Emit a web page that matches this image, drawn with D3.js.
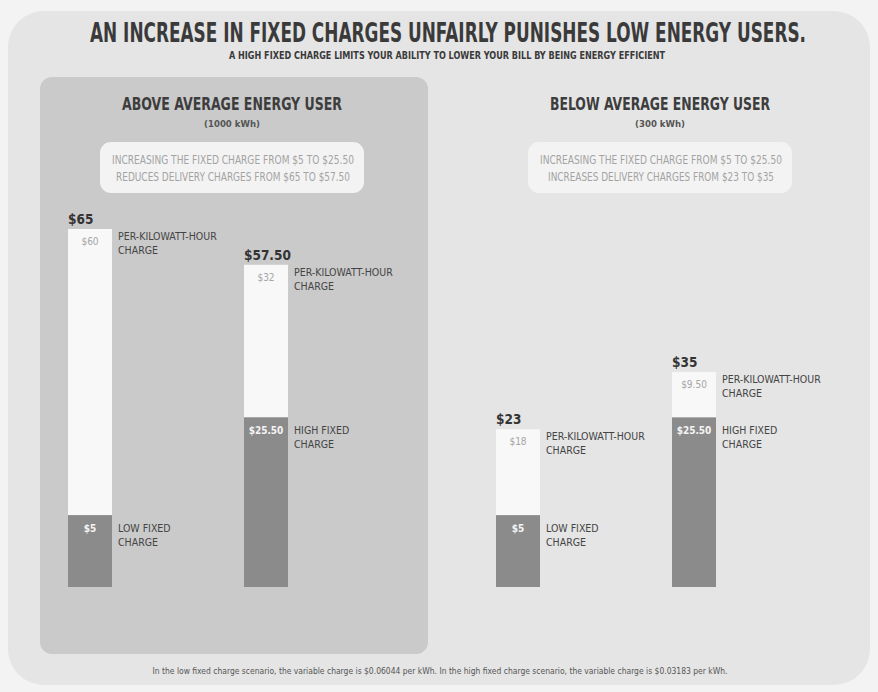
<!DOCTYPE html>
<html>
<head>
<meta charset="utf-8">
<script src="https://cdn.jsdelivr.net/npm/d3@7"></script>
<style>
  html, body { margin: 0; padding: 0; background: #f3f3f3; }
  svg { display: block; }
  text { font-family: "Liberation Sans Narrow", "DejaVu Sans Condensed", "Roboto", sans-serif; }
</style>
</head>
<body>
<div id="chart"></div>
<script>
// chart data
const scenarios = ["ABOVE AVERAGE ENERGY USER", "BELOW AVERAGE ENERGY USER"];
const usage = ["(1000 kWh)", "(300 kWh)"];
const callouts = [
  ["INCREASING THE FIXED CHARGE FROM $5 TO $25.50", "REDUCES DELIVERY CHARGES FROM $65 TO $57.50"],
  ["INCREASING THE FIXED CHARGE FROM $5 TO $25.50", "INCREASES DELIVERY CHARGES FROM $23 TO $35"]
];
const cases = ["low", "high"];
const fixedNames = ["LOW FIXED", "HIGH FIXED"];
const fixedCharge = [[5, 25.5], [5, 25.5]];
const kwhCharge = [[60, 32], [18, 9.5]];
const totalLabels = [["$65", "$57.50"], ["$23", "$35"]];
const fixedLabels = [["$5", "$25.50"], ["$5", "$25.50"]];
const kwhLabels = [["$60", "$32"], ["$18", "$9.50"]];

const width = 878;
const height = 692;
const barWidth = 44;
const baseY = 587;

const svg = d3.select("#chart")
  .append("svg")
  .attr("width", width)
  .attr("height", height);

// card background
svg.append("rect")
  .attr("x", 8).attr("y", 11)
  .attr("width", 862).attr("height", 674)
  .attr("rx", 36)
  .attr("fill", "#e5e5e5");

// darker panel behind the first scenario
svg.append("rect")
  .attr("x", 40).attr("y", 77)
  .attr("width", 388).attr("height", 577)
  .attr("rx", 12)
  .attr("fill", "#cacaca");

// title + subtitle (condensed look: narrow font stretched vertically)
svg.append("text")
  .attr("transform", "translate(448,42) scale(1,1.35)")
  .attr("text-anchor", "middle")
  .attr("font-size", 20).attr("font-weight", "bold")
  .attr("fill", "#3a3a3a")
  .attr("textLength", 716).attr("lengthAdjust", "spacingAndGlyphs")
  .text("AN INCREASE IN FIXED CHARGES UNFAIRLY PUNISHES LOW ENERGY USERS.");

svg.append("text")
  .attr("transform", "translate(447,59) scale(1,1.2)")
  .attr("text-anchor", "middle")
  .attr("font-size", 8.5).attr("font-weight", "bold")
  .attr("fill", "#3a3a3a")
  .attr("textLength", 436).attr("lengthAdjust", "spacingAndGlyphs")
  .text("A HIGH FIXED CHARGE LIMITS YOUR ABILITY TO LOWER YOUR BILL BY BEING ENERGY EFFICIENT");

// scales
const panelX = d3.scalePoint().domain(scenarios).range([0, 428]);
const barX = d3.scalePoint().domain(cases).range([68, 244]);
// the original graphic is not drawn to scale; bars rise from a short stub below zero
const y = d3.scaleLinear().domain([0, 65]).range([539, 229]);

const panels = svg.selectAll("g.panel")
  .data(scenarios)
  .enter()
  .append("g")
  .attr("class", "panel")
  .attr("transform", d => `translate(${panelX(d)},0)`);

// headings
panels.append("text")
  .attr("transform", "translate(232,110) scale(1,1.2)")
  .attr("text-anchor", "middle")
  .attr("font-size", 14.5).attr("font-weight", "bold")
  .attr("fill", "#3d3d3d")
  .attr("textLength", 220).attr("lengthAdjust", "spacingAndGlyphs")
  .text(d => d);

panels.append("text")
  .attr("x", 232).attr("y", 127)
  .attr("text-anchor", "middle")
  .attr("font-size", 9.5).attr("font-weight", "bold")
  .attr("fill", "#555")
  .text((d, i) => usage[i]);

// callout boxes
panels.append("rect")
  .attr("x", 100).attr("y", 142)
  .attr("width", 264).attr("height", 51)
  .attr("rx", 11)
  .attr("fill", "#f3f3f3");

panels.each(function(d, i) {
  const g = d3.select(this);
  callouts[i].forEach((line, j) => {
    g.append("text")
      .attr("transform", `translate(233,${164 + j * 17}) scale(1,1.15)`)
      .attr("text-anchor", "middle")
      .attr("font-size", 10)
      .attr("fill", "#a3a3a3")
      .attr("textLength", j === 0 ? 242 : (i === 0 ? 234 : 226))
      .attr("lengthAdjust", "spacingAndGlyphs")
      .text(line);
  });
});

// bars
panels.each(function(d, i) {
  const g = d3.select(this);
  cases.forEach((c, j) => {
    const fixed = fixedCharge[i][j];
    const total = fixed + kwhCharge[i][j];
    const x0 = barX(c);
    const xr = x0 + barWidth;

    // per-kilowatt-hour segment
    g.append("rect")
      .attr("x", x0).attr("y", y(total))
      .attr("width", barWidth).attr("height", y(fixed) - y(total))
      .attr("fill", "#f8f8f8");

    // fixed segment
    g.append("rect")
      .attr("x", x0).attr("y", y(fixed))
      .attr("width", barWidth).attr("height", baseY - y(fixed))
      .attr("fill", "#8b8b8b");

    // total above bar
    g.append("text")
      .attr("x", x0).attr("y", y(total) - 5)
      .attr("font-size", 13.5).attr("font-weight", "bold")
      .attr("fill", "#333")
      .text(totalLabels[i][j]);

    // values inside segments
    g.append("text")
      .attr("x", x0 + barWidth / 2).attr("y", y(total) + 16)
      .attr("text-anchor", "middle")
      .attr("font-size", 10)
      .attr("fill", "#a5a5a5")
      .text(kwhLabels[i][j]);

    g.append("text")
      .attr("x", x0 + barWidth / 2).attr("y", y(fixed) + 17)
      .attr("text-anchor", "middle")
      .attr("font-size", 10).attr("font-weight", "bold")
      .attr("fill", "#f4f4f4")
      .text(fixedLabels[i][j]);

    // side labels
    const kwhLab = g.append("text")
      .attr("x", xr + 6).attr("y", y(total) + 11)
      .attr("font-size", 10.5)
      .attr("fill", "#444");
    kwhLab.append("tspan").attr("x", xr + 6).text("PER-KILOWATT-HOUR");
    kwhLab.append("tspan").attr("x", xr + 6).attr("dy", 14).text("CHARGE");

    const fixLab = g.append("text")
      .attr("x", xr + 6).attr("y", y(fixed) + 17)
      .attr("font-size", 10.5)
      .attr("fill", "#444");
    fixLab.append("tspan").attr("x", xr + 6).text(fixedNames[j]);
    fixLab.append("tspan").attr("x", xr + 6).attr("dy", 14).text("CHARGE");
  });
});

// footnote
svg.append("text")
  .attr("x", 440).attr("y", 674)
  .attr("text-anchor", "middle")
  .attr("font-size", 8.5)
  .attr("fill", "#555")
  .attr("textLength", 575).attr("lengthAdjust", "spacingAndGlyphs")
  .text("In the low fixed charge scenario, the variable charge is $0.06044 per kWh. In the high fixed charge scenario, the variable charge is $0.03183 per kWh.");
</script>
</body>
</html>
